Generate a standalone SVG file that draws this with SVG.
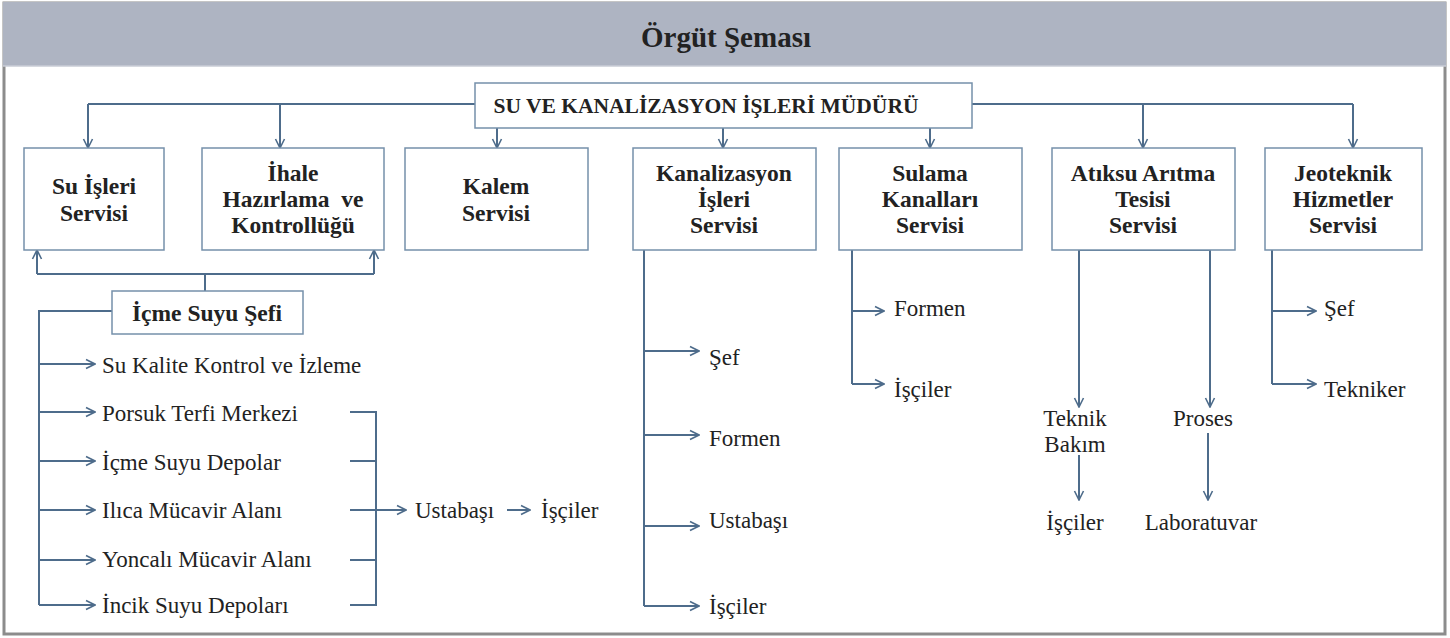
<svg xmlns="http://www.w3.org/2000/svg" width="1450" height="638" viewBox="0 0 1450 638">
<style>
.box{fill:#fff;stroke:#7590aa;stroke-width:1.5}
.ln{fill:none;stroke:#4e6c8b;stroke-width:2}
.ar{fill:none;stroke:#4e6c8b;stroke-width:2;marker-end:url(#ah)}
text{font-family:'Liberation Serif',serif;fill:#222}
.b{font-weight:bold;font-size:23.5px;text-anchor:middle}
.t{font-size:23px}
.tc{font-size:23px;text-anchor:middle}
</style>
<defs>
<marker id="ah" viewBox="0 0 12 12" refX="11" refY="6" markerWidth="12" markerHeight="12" markerUnits="userSpaceOnUse" orient="auto">
<path d="M2,1.5 L11,6 L2,10.5" fill="none" stroke="#4e6c8b" stroke-width="1.6"/>
</marker>
</defs>
<rect x="4" y="3" width="1441" height="631" fill="#fff" stroke="#8c8c8c" stroke-width="3"/>
<rect x="3" y="2" width="1443" height="64" fill="#aeb4c2"/>
<line x1="3" y1="66" x2="1446" y2="66" stroke="#c9cdd6" stroke-width="1.5"/>
<text x="726" y="47" font-weight="bold" font-size="29" text-anchor="middle">Örgüt Şeması</text>

<g id="connectors">
<polyline class="ln" points="475,104 88,104"/>
<line class="ar" x1="88" y1="104" x2="88" y2="148"/>
<line class="ar" x1="280" y1="104" x2="280" y2="148"/>
<polyline class="ln" points="972,104 1353,104"/>
<line class="ar" x1="1143" y1="104" x2="1143" y2="148"/>
<line class="ar" x1="1353" y1="104" x2="1353" y2="148"/>
<line class="ar" x1="497" y1="128" x2="497" y2="148"/>
<line class="ar" x1="723" y1="128" x2="723" y2="148"/>
<line class="ar" x1="930" y1="128" x2="930" y2="148"/>
<polyline class="ln" points="37,274 374,274"/>
<line class="ar" x1="37" y1="274" x2="37" y2="250"/>
<line class="ar" x1="374" y1="274" x2="374" y2="250"/>
<line class="ln" x1="205" y1="274" x2="205" y2="291"/>
<polyline class="ln" points="112,311 39,311 39,605"/>
<line class="ar" x1="39" y1="364" x2="95" y2="364"/>
<line class="ar" x1="39" y1="412" x2="95" y2="412"/>
<line class="ar" x1="39" y1="461" x2="95" y2="461"/>
<line class="ar" x1="39" y1="510" x2="95" y2="510"/>
<line class="ar" x1="39" y1="560" x2="95" y2="560"/>
<line class="ar" x1="39" y1="605" x2="95" y2="605"/>
<polyline class="ln" points="350,412 376,412 376,605 350,605"/>
<line class="ln" x1="350" y1="461" x2="376" y2="461"/>
<line class="ln" x1="350" y1="510" x2="376" y2="510"/>
<line class="ln" x1="350" y1="560" x2="376" y2="560"/>
<line class="ar" x1="376" y1="510" x2="406" y2="510"/>
<line class="ar" x1="507" y1="510" x2="530" y2="510"/>
<line class="ln" x1="644" y1="250" x2="644" y2="606"/>
<line class="ar" x1="644" y1="351" x2="699" y2="351"/>
<line class="ar" x1="644" y1="435" x2="699" y2="435"/>
<line class="ar" x1="644" y1="526" x2="699" y2="526"/>
<line class="ar" x1="644" y1="606" x2="699" y2="606"/>
<line class="ln" x1="852" y1="250" x2="852" y2="384"/>
<line class="ar" x1="852" y1="311" x2="884" y2="311"/>
<line class="ar" x1="852" y1="384" x2="884" y2="384"/>
<polyline class="ln" points="1079,250 1210,250"/>
<line class="ar" x1="1079" y1="250" x2="1079" y2="407"/>
<line class="ar" x1="1210" y1="250" x2="1210" y2="407"/>
<line class="ar" x1="1079" y1="455" x2="1079" y2="500"/>
<line class="ar" x1="1208" y1="433" x2="1208" y2="500"/>
<line class="ln" x1="1272" y1="250" x2="1272" y2="384"/>
<line class="ar" x1="1272" y1="311" x2="1316" y2="311"/>
<line class="ar" x1="1272" y1="384" x2="1316" y2="384"/>
</g>

<g id="mudur">
<rect class="box" x="475" y="83" width="497" height="45"/>
<text class="b" x="706" y="113" style="font-size:21.5px">SU VE KANALİZASYON İŞLERİ MÜDÜRÜ</text>
</g>
<g id="su-isleri">
<rect class="box" x="24" y="148" width="140" height="102"/>
<text class="b" x="94" y="194">Su İşleri</text>
<text class="b" x="94" y="221">Servisi</text>
</g>
<g id="ihale">
<rect class="box" x="202" y="148" width="182" height="102"/>
<text class="b" x="293" y="181">İhale</text>
<text class="b" x="293" y="207" xml:space="preserve">Hazırlama  ve</text>
<text class="b" x="293" y="233">Kontrollüğü</text>
</g>
<g id="kalem">
<rect class="box" x="405" y="148" width="183" height="102"/>
<text class="b" x="496" y="194">Kalem</text>
<text class="b" x="496" y="221">Servisi</text>
</g>
<g id="kanalizasyon">
<rect class="box" x="633" y="148" width="183" height="102"/>
<text class="b" x="724" y="181">Kanalizasyon</text>
<text class="b" x="724" y="207">İşleri</text>
<text class="b" x="724" y="233">Servisi</text>
</g>
<g id="sulama">
<rect class="box" x="839" y="148" width="183" height="102"/>
<text class="b" x="930" y="181">Sulama</text>
<text class="b" x="930" y="207">Kanalları</text>
<text class="b" x="930" y="233">Servisi</text>
</g>
<g id="atiksu">
<rect class="box" x="1052" y="148" width="183" height="102"/>
<text class="b" x="1143" y="181">Atıksu Arıtma</text>
<text class="b" x="1143" y="207">Tesisi</text>
<text class="b" x="1143" y="233">Servisi</text>
</g>
<g id="jeoteknik">
<rect class="box" x="1265" y="148" width="157" height="102"/>
<text class="b" x="1343" y="181">Jeoteknik</text>
<text class="b" x="1343" y="207">Hizmetler</text>
<text class="b" x="1343" y="233">Servisi</text>
</g>
<g id="icme-suyu-sefi">
<rect class="box" x="112" y="291" width="191" height="43"/>
<text class="b" x="207" y="321">İçme Suyu Şefi</text>
</g>
<g id="icme-children">
<text class="t" x="102" y="373">Su Kalite Kontrol ve İzleme</text>
<text class="t" x="102" y="421">Porsuk Terfi Merkezi</text>
<text class="t" x="102" y="470">İçme Suyu Depolar</text>
<text class="t" x="102" y="518">Ilıca Mücavir Alanı</text>
<text class="t" x="102" y="567">Yoncalı Mücavir Alanı</text>
<text class="t" x="102" y="613">İncik Suyu Depoları</text>
<text class="t" x="415" y="518">Ustabaşı</text>
<text class="t" x="541" y="518">İşçiler</text>
</g>
<g id="kanal-children">
<text class="t" x="709" y="365">Şef</text>
<text class="t" x="709" y="446">Formen</text>
<text class="t" x="709" y="528">Ustabaşı</text>
<text class="t" x="709" y="614">İşçiler</text>
</g>
<g id="sulama-children">
<text class="t" x="894" y="316">Formen</text>
<text class="t" x="894" y="397">İşçiler</text>
</g>
<g id="atiksu-children">
<text class="tc" x="1075" y="426">Teknik</text>
<text class="tc" x="1075" y="452">Bakım</text>
<text class="tc" x="1075" y="530">İşçiler</text>
<text class="tc" x="1203" y="426">Proses</text>
<text class="tc" x="1201" y="530">Laboratuvar</text>
</g>
<g id="jeo-children">
<text class="t" x="1324" y="316">Şef</text>
<text class="t" x="1324" y="397">Tekniker</text>
</g>
</svg>
